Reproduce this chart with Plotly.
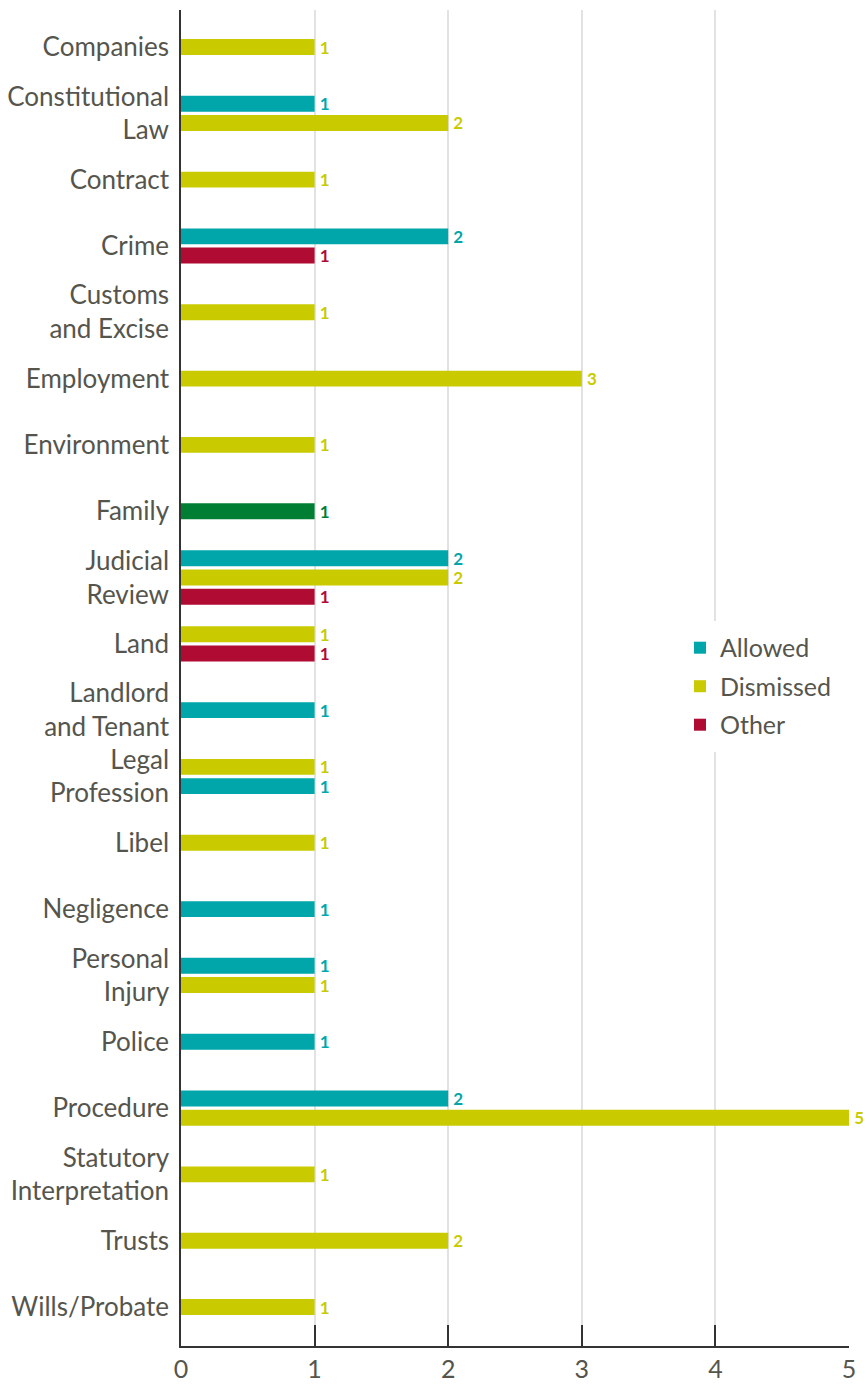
import plotly.graph_objects as go

# ---------------- data ----------------
categories = [
    "Companies", "Constitutional<br>Law", "Contract", "Crime", "Customs<br>and Excise",
    "Employment", "Environment", "Family", "Judicial<br>Review", "Land",
    "Landlord<br>and Tenant", "Legal<br>Profession", "Libel", "Negligence",
    "Personal<br>Injury", "Police", "Procedure", "Statutory<br>Interpretation",
    "Trusts", "Wills/Probate",
]
allowed = [None, 1, None, 2, None, None, None, None, 2, None,
           1, 1, None, 1, 1, 1, 2, None, None, None]
dismissed = [1, 2, 1, None, 1, 3, 1, None, 2, 1,
             None, 1, 1, None, 1, None, 5, 1, 2, 1]
other = [None, None, None, 1, None, None, None, None, 1, 1,
         None, None, None, None, None, None, None, None, None, None]
family_only = [None, None, None, None, None, None, None, 1, None, None,
               None, None, None, None, None, None, None, None, None, None]
x_ticks = [0, 1, 2, 3, 4, 5]

# display order of bars inside a category (top to bottom)
default_order = ["Allowed", "Dismissed", "Other", "Family"]
order_override = {"Legal<br>Profession": ["Dismissed", "Allowed"]}

series = {
    "Allowed": allowed,
    "Dismissed": dismissed,
    "Other": other,
    "Family": family_only,
}
colors = {
    "Allowed": "#00A6AA",
    "Dismissed": "#C9CB00",
    "Other": "#B00B33",
    "Family": "#007E34",
}
in_legend = {"Allowed": True, "Dismissed": True, "Other": True, "Family": False}

BAR_W = 0.24
PITCH = 0.29

# slot of each bar within its category
slots = {name: [None] * len(categories) for name in series}
counts = [0] * len(categories)
for i, cat in enumerate(categories):
    order = order_override.get(cat, default_order)
    present = [n for n in order if series[n][i] is not None]
    counts[i] = len(present)
    for k, n in enumerate(present):
        slots[n][i] = k

fig = go.Figure()
for name in ["Allowed", "Dismissed", "Other", "Family"]:
    vals = series[name]
    ys, xs, offs = [], [], []
    for i, v in enumerate(vals):
        if v is None:
            continue
        n = counts[i]
        k = slots[name][i]
        ys.append(categories[i])
        xs.append(v)
        offs.append(-n * PITCH / 2 + k * PITCH + (PITCH - BAR_W) / 2)
    fig.add_trace(go.Bar(
        name=name, y=ys, x=xs, orientation="h",
        offset=offs, width=[BAR_W] * len(xs),
        marker=dict(color=colors[name], line=dict(width=0)),
        text=["\u2009" + str(v) for v in xs], textposition="outside",
        textfont=dict(color=colors[name], size=17, family="Lato", weight="bold"),
        cliponaxis=False, constraintext="none",
        showlegend=in_legend[name], legendgroup=name,
    ))

fig.update_layout(
    width=868, height=1385,
    margin=dict(l=181, r=19, t=10, b=39, autoexpand=False),
    plot_bgcolor="white", paper_bgcolor="white",
    barmode="overlay",
    font=dict(family="Lato", color="#55554D"),
    legend=dict(
        x=0.741, y=0.5427, xanchor="left", yanchor="top",
        bgcolor="white", bordercolor="white", borderwidth=4,
        font=dict(size=25, color="#55554D"),
        traceorder="grouped", tracegroupgap=3,
    ),
    showlegend=True,
)
fig.update_xaxes(
    range=[0, 5], tickvals=x_ticks, ticktext=[str(t) for t in x_ticks],
    showgrid=True, gridcolor="#E2E2E2", gridwidth=1.5,
    zeroline=False, automargin=False,
    showline=True, linecolor="#333333", linewidth=1.5,
    ticks="inside", ticklen=21, tickwidth=1.5, tickcolor="#333333",
    tickfont=dict(size=25, color="#55554D"),
)
fig.update_yaxes(
    type="category", categoryorder="array", categoryarray=categories,
    range=[19.588, -0.558], automargin=False,
    showgrid=False, zeroline=False,
    showline=True, linecolor="#333333", linewidth=1.5,
    ticks="", tickfont=dict(size=26, color="#55554D"),
    ticklabelstandoff=5,
)

# remove the default page margin so the figure fills the window exactly
fig.write_html(
    "out.html",
    config={"displayModeBar": False},
    post_script="document.body.style.margin='0';document.body.style.overflow='hidden';",
)
